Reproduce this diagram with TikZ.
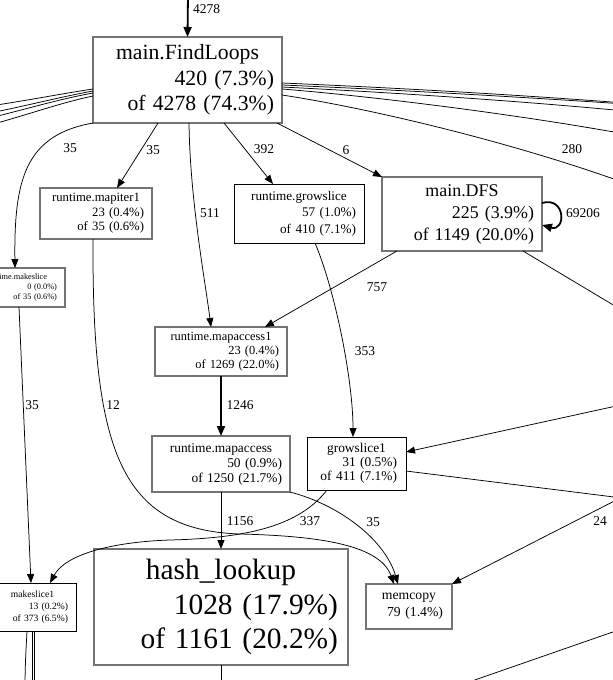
\documentclass[tikz,border=0pt]{standalone}
\usepackage{fontspec}
\setmainfont{Liberation Serif}
\usetikzlibrary{arrows.meta}
\newcommand{\fnname}[1]{\hbox to\hsize{\hss#1\hss}}
\begin{document}
\begin{tikzpicture}[x=1pt,y=-1pt,
  fn/.style={draw=black!55, line width=1.4pt, rectangle, align=right, inner ysep=0pt, outer sep=0pt},
  fnb/.style={fn, draw=black, line width=0.9pt},
  conn/.style={line width=0.75pt, -{Triangle[length=9pt,width=7pt]}},
  lineonly/.style={line width=0.75pt},
  heavy/.style={line width=1.8pt, -{Triangle[length=10pt,width=8pt]}},
  elab/.style={font=\fontsize{13.5}{14}\selectfont, inner sep=0pt}
]
\useasboundingbox (0,0) rectangle (613,680);
\clip (0,0) rectangle (613,680);

% nodes
\node[fn, minimum width=189pt, minimum height=86pt, text width=173pt, inner xsep=8pt,
  font=\fontsize{21.7}{25.5}\selectfont] (findloops) at (187.5,80)
  {\fnname{main.FindLoops}\\420 (7.3\%)\\of 4278 (74.3\%)};
\node[fn, minimum width=112pt, minimum height=51pt, text width=96pt, inner xsep=8pt,
  font=\fontsize{12.7}{14.5}\selectfont] (mapiter1) at (96,213.5)
  {\fnname{runtime.mapiter1}\\23 (0.4\%)\\of 35 (0.6\%)};
\node[fn, minimum width=97pt, minimum height=39pt, text width=81pt, inner xsep=8pt,
  font=\fontsize{8.3}{10}\selectfont] (makeslice) at (16.5,287.5)
  {\fnname{runtime.makeslice}\\0 (0.0\%)\\of 35 (0.6\%)};
\node[fnb, minimum width=130pt, minimum height=59pt, text width=114pt, inner xsep=8pt,
  font=\fontsize{13.2}{16.5}\selectfont] (growslice) at (299,213.5)
  {\fnname{runtime.growslice}\\57 (1.0\%)\\of 410 (7.1\%)};
\node[fn, minimum width=160pt, minimum height=74pt, text width=144pt, inner xsep=8pt,
  font=\fontsize{17.9}{22}\selectfont] (dfs) at (462,214)
  {\fnname{main.DFS}\\225 (3.9\%)\\of 1149 (20.0\%)};
\node[fn, minimum width=132pt, minimum height=49pt, text width=116pt, inner xsep=8pt,
  font=\fontsize{12.4}{13.8}\selectfont] (mapaccess1) at (221,351.5)
  {\fnname{runtime.mapaccess1}\\23 (0.4\%)\\of 1269 (22.0\%)};
\node[fn, minimum width=138pt, minimum height=56pt, text width=122pt, inner xsep=8pt,
  font=\fontsize{13.4}{15}\selectfont] (mapaccess) at (221,464)
  {\fnname{runtime.mapaccess}\\50 (0.9\%)\\of 1250 (21.7\%)};
\node[fnb, minimum width=99pt, minimum height=53pt, text width=81pt, inner xsep=9pt,
  font=\fontsize{13.4}{14.2}\selectfont] (growslice1) at (356.5,463.5)
  {\fnname{growslice1}\\31 (0.5\%)\\of 411 (7.1\%)};
\node[fn, minimum width=254pt, minimum height=116pt, text width=234pt, inner xsep=10pt,
  font=\fontsize{29.4}{34.5}\selectfont] (hashlookup) at (221,607)
  {\fnname{hash\_lookup}\\1028 (17.9\%)\\of 1161 (20.2\%)};
\node[fnb, minimum width=87pt, minimum height=48pt, text width=71pt, inner xsep=8pt,
  font=\fontsize{9.6}{12}\selectfont] (makeslice1) at (32.5,607)
  {\fnname{makeslice1}\\13 (0.2\%)\\of 373 (6.5\%)};
\node[fn, minimum width=86pt, minimum height=45pt, text width=68pt, inner xsep=9pt,
  font=\fontsize{13.7}{17}\selectfont] (memcopy) at (409,606.5)
  {\fnname{memcopy}\\79 (1.4\%)};

% free ends
\coordinate (top) at (188,-5);
\coordinate (offL1) at (-10,106);
\coordinate (offL2) at (-10,113);
\coordinate (offL3) at (-10,118);
\coordinate (offL4) at (-10,125);
\coordinate (offR1) at (625,103);
\coordinate (offR2) at (625,104);
\coordinate (offR3) at (625,111);
\coordinate (offR4) at (625,134);
\coordinate (offR5) at (625,183);
\coordinate (offDFS) at (640,321);
\coordinate (offG1) at (630,499);
\coordinate (inG1) at (630,403);
\coordinate (inMem) at (630,493);
\coordinate (offBR1) at (630,626);
\coordinate (offBR2) at (446,690);
\coordinate (offHL) at (221,690);
\coordinate (offMS1) at (25,690);
\coordinate (offMS2) at (32,690);
\coordinate (offMS3) at (34,690);

% edges
\draw[heavy] (top) -- (findloops.north);
\draw[conn] (findloops.south west) .. controls (25,135) and (14,180) .. ([xshift=-1.5pt]makeslice.north);
\draw[conn] ([xshift=-29.5pt]findloops.south) -- ([xshift=21pt]mapiter1.north);
\draw[conn] ([xshift=1.5pt]findloops.south) .. controls (190,200) and (205,280) .. ([xshift=-10pt]mapaccess1.north);
\draw[conn] ([xshift=36.5pt]findloops.south) -- ([xshift=-26pt]growslice.north);
\draw[conn] ([xshift=-5pt]findloops.south east) -- (dfs.north west);

\draw[lineonly] ([yshift=-9pt]findloops.west) .. controls (60,94) and (30,100) .. (offL1);
\draw[lineonly] ([yshift=-11pt]findloops.west) .. controls (60,97) and (30,105) .. (offL2);
\draw[lineonly] ([yshift=-13pt]findloops.west) .. controls (60,99) and (30,108) .. (offL3);
\draw[lineonly] ([yshift=-16pt]findloops.west) .. controls (60,103) and (30,114) .. (offL4);

\draw[lineonly] ([yshift=-3pt]findloops.east) .. controls (400,88) and (520,95) .. (offR1);
\draw[lineonly] ([yshift=-5pt]findloops.east) .. controls (400,90) and (520,97) .. (offR2);
\draw[lineonly] ([yshift=-7pt]findloops.east) .. controls (400,93) and (520,101) .. (offR3);
\draw[lineonly] ([yshift=-9pt]findloops.east) .. controls (380,97) and (520,115) .. (offR4);
\draw[lineonly] ([yshift=-15pt]findloops.east) .. controls (380,110) and (520,145) .. (offR5);

\draw[heavy] ([yshift=11pt]dfs.east) .. controls (566,196) and (566,232) .. ([yshift=-11pt]dfs.east);
\draw[conn] ([xshift=-65pt]dfs.south) -- ([xshift=44pt]mapaccess1.north);
\draw[lineonly] ([xshift=61pt]dfs.south) -- (offDFS);
\draw[conn] ([xshift=16pt]growslice.south) .. controls (335,290) and (353,380) .. ([xshift=-3.5pt]growslice1.north);
\draw[heavy] (mapaccess1.south) -- (mapaccess.north);
\draw[conn] ([xshift=-3pt]mapiter1.south) .. controls (92,450) and (120,530) .. (240,534) .. controls (320,536) and (380,545) .. ([xshift=-15pt]memcopy.north);
\draw[conn, line width=0.95pt] (mapaccess.south) -- (hashlookup.north);
\draw[conn] (mapaccess.south east) .. controls (340,505) and (385,540) .. ([xshift=-11pt]memcopy.north);
\draw[conn] ([xshift=-29.5pt]growslice1.south) .. controls (300,525) and (250,538) .. (170,540) .. controls (110,542) and (65,555) .. ([xshift=17.5pt]makeslice1.north);
\draw[lineonly] ([yshift=-7.5pt]growslice1.east) -- (offG1);
\draw[conn] (inG1) -- ([yshift=11.5pt]growslice1.east);
\draw[conn] (inMem) -- (memcopy.north east);
\draw[lineonly] (offBR1) -- (offBR2);
\draw[lineonly] (hashlookup.south) -- (offHL);
\draw[conn] ([xshift=2.5pt]makeslice.south) -- ([xshift=-1.5pt]makeslice1.north);
\draw[lineonly] ([xshift=-5.5pt]makeslice1.south) .. controls (26,650) and (25,665) .. (offMS1);
\draw[lineonly] ([xshift=-0.5pt]makeslice1.south) -- (offMS2);
\draw[lineonly] ([xshift=1.5pt]makeslice1.south) -- (offMS3);

% edge labels
\node[elab] (l4278) at (206.5,9) {4278};
\node[elab] (l35a) at (70,148) {35};
\node[elab] (l35b) at (153,150) {35};
\node[elab] (l511) at (210,213) {511};
\node[elab] (l392) at (264,149) {392};
\node[elab] (l6) at (346,150) {6};
\node[elab] (l280) at (572,149) {280};
\node[elab] (l69206) at (583,213) {69206};
\node[elab] (l757) at (377,287) {757};
\node[elab] (l353) at (365,351) {353};
\node[elab] (l35c) at (32,405) {35};
\node[elab] (l12) at (113,405) {12};
\node[elab] (l1246) at (240,405) {1246};
\node[elab] (l1156) at (240,521) {1156};
\node[elab] (l337) at (310,521) {337};
\node[elab] (l35d) at (373,522) {35};
\node[elab] (l24) at (600,521) {24};
\end{tikzpicture}
\end{document}
